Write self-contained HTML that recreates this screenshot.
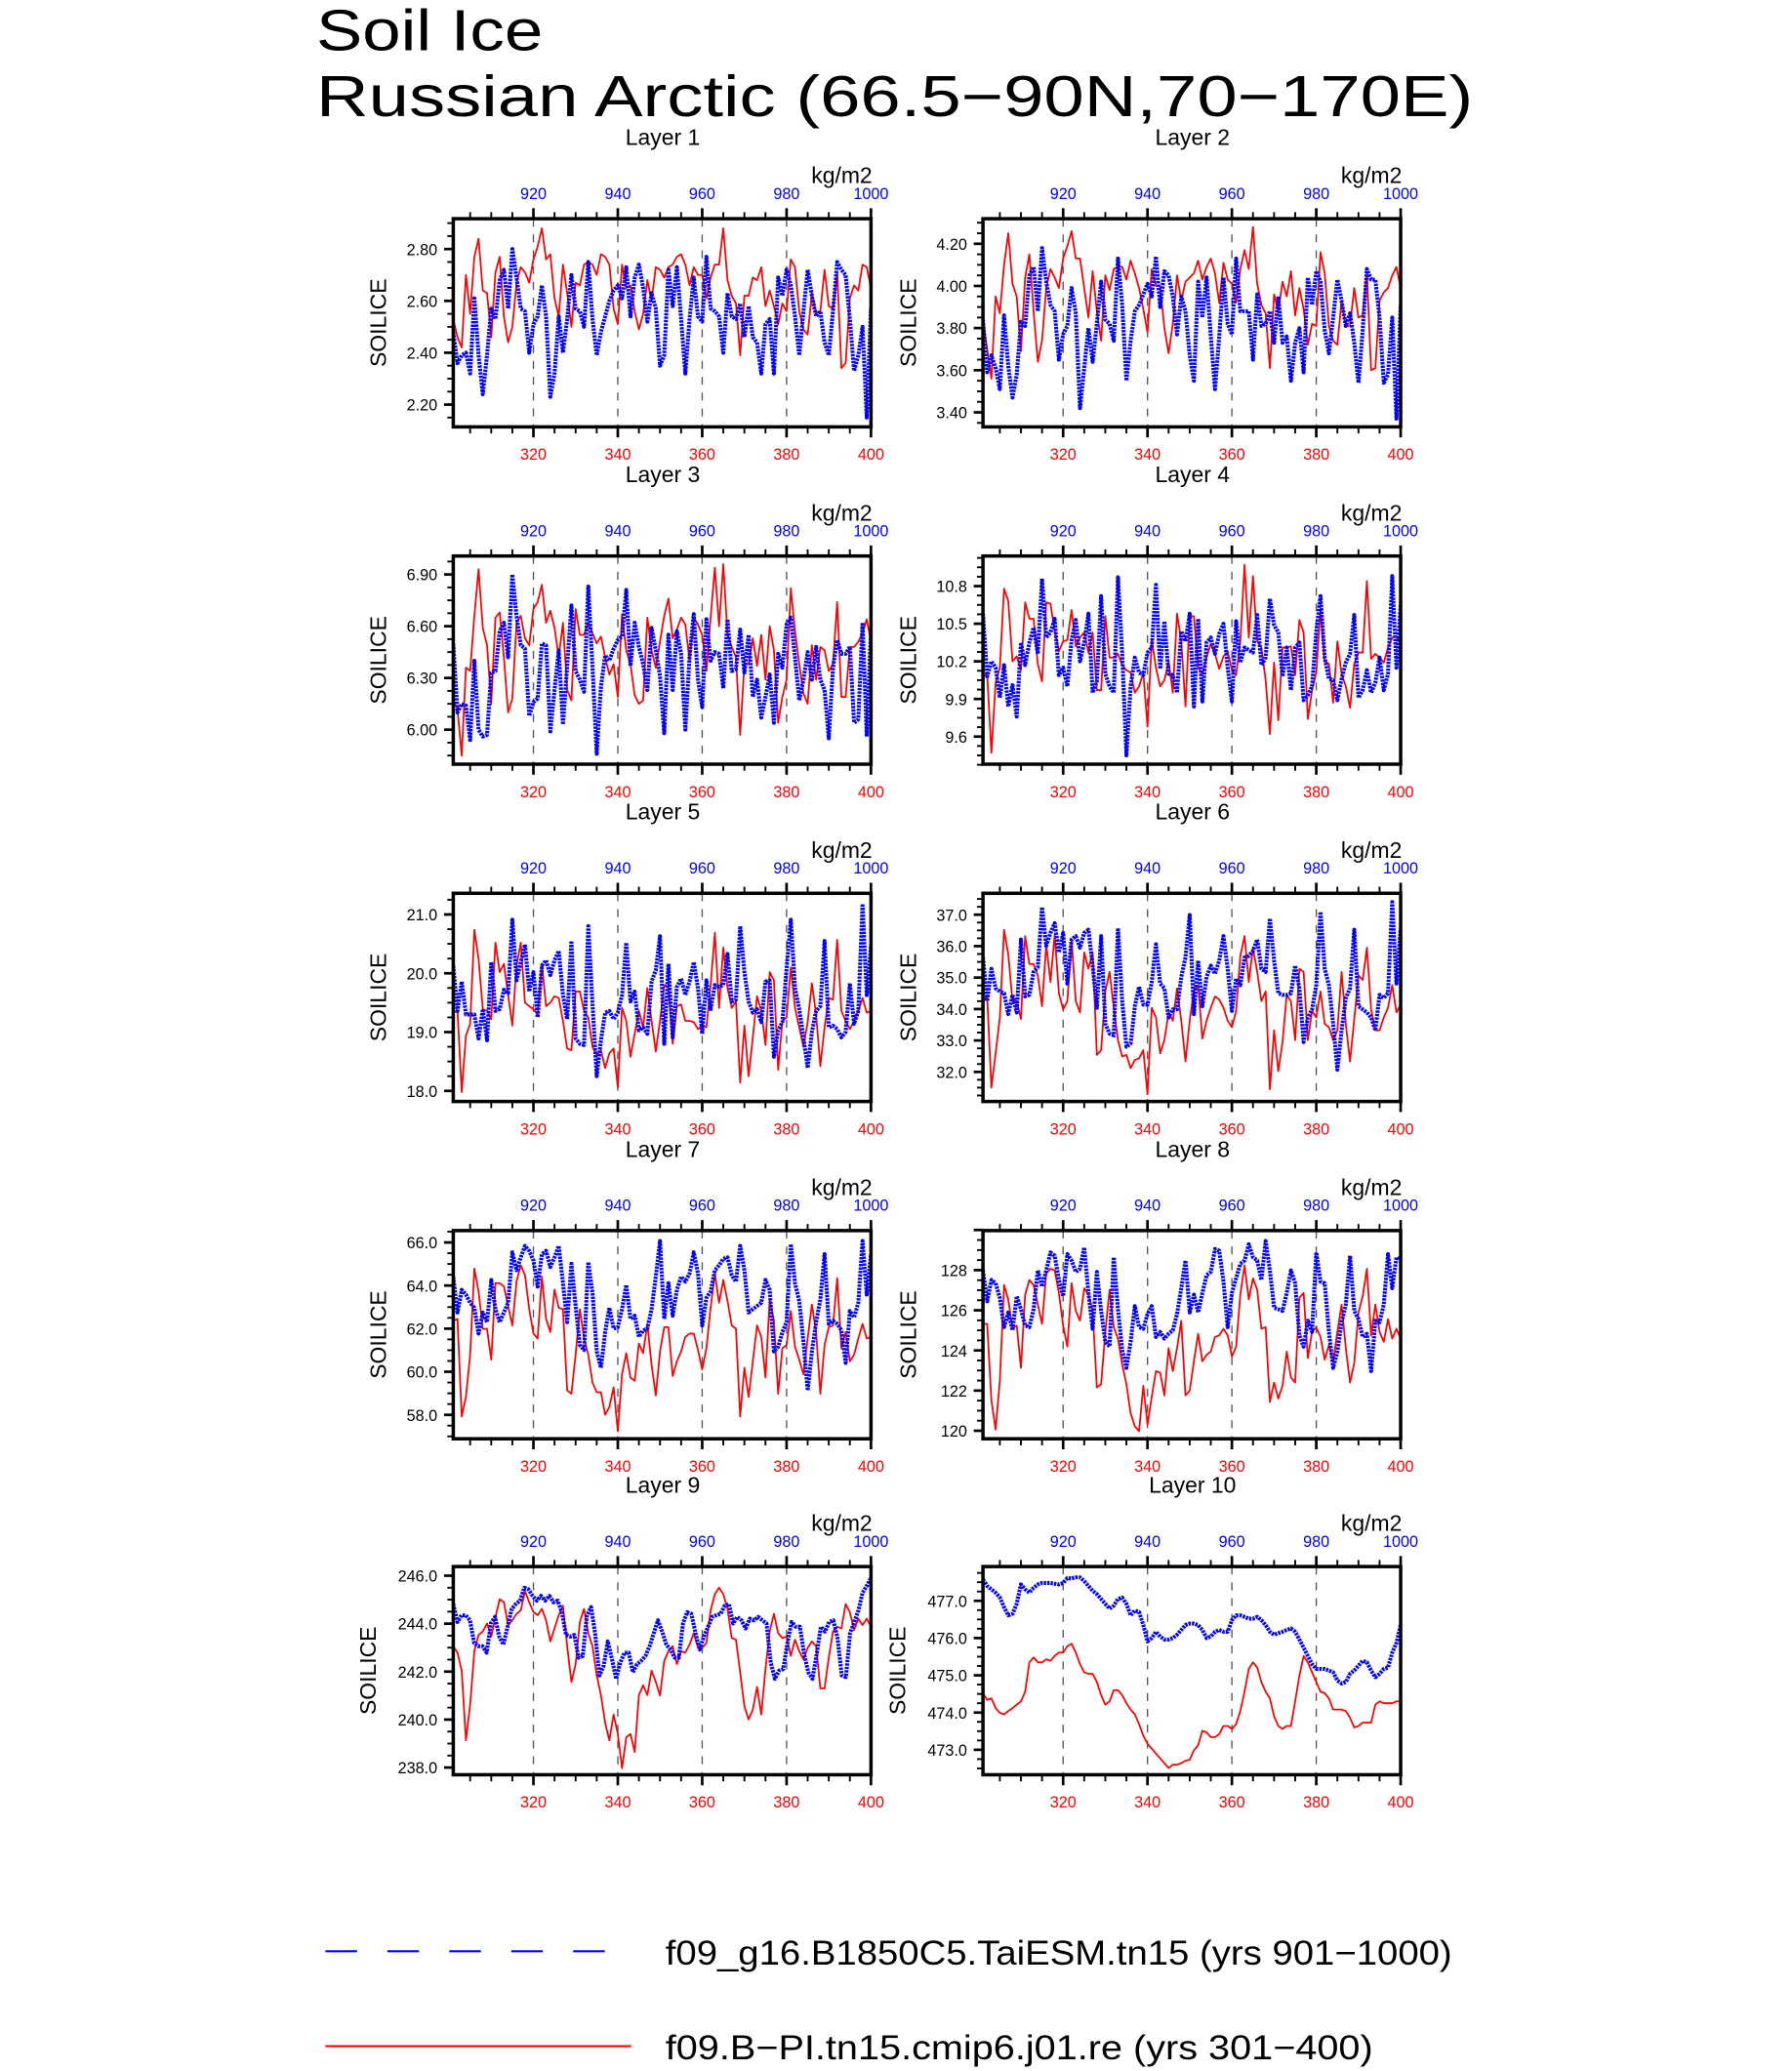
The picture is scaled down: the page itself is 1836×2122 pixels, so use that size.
<!DOCTYPE html>
<html><head><meta charset="utf-8"><title>Soil Ice Russian Arctic</title>
<style>html,body{margin:0;padding:0;background:#fff}svg{display:block}text{font-family:"Liberation Sans",sans-serif}</style>
</head><body>
<svg id="chart" xmlns="http://www.w3.org/2000/svg" width="1836" height="2122" viewBox="0 0 1360 1571.85">
<text x="240" y="38" font-size="44" font-weight="300" textLength="172" lengthAdjust="spacingAndGlyphs">Soil Ice</text>
<text x="240" y="88" font-size="44" font-weight="300" textLength="878" lengthAdjust="spacingAndGlyphs">Russian Arctic (66.5−90N,70−170E)</text>
<g id="panels"></g>
<g>
<line x1="247" y1="1481" x2="462" y2="1481" stroke="#0000ff" stroke-width="1.6" stroke-dasharray="24 23"/>
<text x="505" y="1491" font-size="26" textLength="597" lengthAdjust="spacingAndGlyphs">f09_g16.B1850C5.TaiESM.tn15 (yrs 901−1000)</text>
<line x1="247" y1="1553" x2="479" y2="1553" stroke="#ff0000" stroke-width="1.6"/>
<text x="505" y="1563" font-size="26" textLength="537" lengthAdjust="spacingAndGlyphs">f09.B−PI.tn15.cmip6.j01.re (yrs 301−400)</text>
</g>
</svg>
<script>
const redYears=[301,400];
const blueYears=[901,1000];
const bottomTicks=[320,340,360,380,400];
const topTicks=[920,940,960,980,1000];
const layerNames=["Layer 1","Layer 2","Layer 3","Layer 4","Layer 5","Layer 6","Layer 7","Layer 8","Layer 9","Layer 10"];
const yDomains=[[2.114,2.917],[3.331,4.319],[5.80,7.007],[9.38,11.04],[17.82,21.36],[31.06,37.68],[56.89,66.55],[119.6,129.97],[237.7,246.38],[472.33,477.92]];
const yTickStart=[2.2,3.4,6.0,9.6,18,32,58,120,238,473];
const yTickStep=[0.2,0.2,0.3,0.3,1,1,2,2,2,1];
const yTickCount=[3,4,3,4,3,5,4,4,4,4];
const yTickDec=[2,2,2,1,1,1,1,0,1,1];

const red1=[2.53,2.46,2.42,2.70,2.55,2.77,2.84,2.64,2.63,2.46,2.71,2.77,2.54,2.44,2.50,2.67,2.73,2.71,2.67,2.76,2.81,2.88,2.76,2.78,2.61,2.54,2.74,2.63,2.50,2.67,2.66,2.74,2.75,2.74,2.70,2.78,2.77,2.74,2.57,2.51,2.74,2.65,2.66,2.56,2.49,2.55,2.68,2.60,2.73,2.72,2.69,2.73,2.74,2.77,2.78,2.74,2.66,2.73,2.70,2.70,2.61,2.69,2.74,2.74,2.88,2.68,2.62,2.59,2.39,2.62,2.62,2.69,2.68,2.73,2.58,2.64,2.58,2.51,2.59,2.56,2.76,2.73,2.56,2.49,2.47,2.63,2.55,2.56,2.72,2.58,2.57,2.71,2.34,2.36,2.61,2.66,2.64,2.74,2.73,2.65];
const blue1=[2.48,2.36,2.39,2.40,2.32,2.61,2.39,2.24,2.39,2.57,2.53,2.68,2.72,2.57,2.80,2.69,2.57,2.56,2.40,2.51,2.54,2.66,2.54,2.23,2.32,2.54,2.40,2.53,2.70,2.57,2.56,2.50,2.75,2.53,2.39,2.48,2.54,2.60,2.64,2.66,2.61,2.73,2.54,2.69,2.74,2.65,2.52,2.63,2.57,2.35,2.39,2.72,2.58,2.73,2.53,2.32,2.53,2.69,2.54,2.52,2.77,2.57,2.56,2.54,2.40,2.63,2.54,2.53,2.59,2.46,2.58,2.46,2.44,2.32,2.51,2.53,2.32,2.69,2.62,2.72,2.66,2.54,2.39,2.56,2.72,2.62,2.54,2.56,2.44,2.39,2.56,2.75,2.72,2.70,2.53,2.33,2.39,2.50,2.15,2.57];
const red2=[3.84,3.70,3.56,3.95,3.87,4.10,4.25,4.01,3.95,3.69,4.04,4.15,3.88,3.64,3.74,3.99,4.08,4.04,3.99,4.13,4.19,4.26,4.13,4.13,3.99,3.85,4.07,3.88,3.74,4.05,3.98,4.08,4.09,4.09,4.03,4.12,4.06,3.99,3.89,3.78,4.08,4.00,4.00,3.80,3.68,3.82,4.05,3.93,4.02,4.04,4.06,4.12,4.03,4.09,4.13,4.06,3.92,4.11,4.03,4.01,3.92,4.08,4.17,4.08,4.28,4.01,3.91,3.87,3.61,3.96,3.88,4.02,3.95,4.07,3.86,3.99,3.89,3.72,3.82,3.81,4.16,4.06,3.81,3.74,3.72,3.93,3.81,3.81,3.99,3.85,3.86,4.06,3.60,3.61,3.93,3.97,3.99,4.05,4.09,3.99];
const blue2=[3.84,3.59,3.67,3.61,3.51,3.86,3.62,3.47,3.58,3.83,3.81,4.05,4.09,3.88,4.18,4.02,3.91,3.88,3.65,3.77,3.81,3.99,3.87,3.42,3.61,3.80,3.64,3.82,4.02,3.84,3.82,3.74,4.13,3.91,3.55,3.74,3.88,3.91,3.96,4.01,3.95,4.14,3.90,4.07,4.05,3.95,3.77,3.95,3.88,3.67,3.55,4.02,3.85,4.04,3.76,3.51,3.76,4.04,3.82,3.77,4.13,3.88,3.88,3.88,3.65,3.96,3.81,3.82,3.88,3.73,3.95,3.73,3.76,3.55,3.73,3.80,3.59,4.04,3.91,4.07,4.02,3.79,3.68,3.85,4.03,3.93,3.81,3.87,3.73,3.54,3.79,4.08,4.03,4.03,3.85,3.54,3.58,3.85,3.37,3.91];
const red3=[6.17,6.12,5.85,6.36,6.34,6.66,6.93,6.59,6.49,6.15,6.65,6.68,6.42,6.10,6.18,6.62,6.66,6.53,6.49,6.70,6.74,6.84,6.62,6.69,6.59,6.42,6.62,6.23,6.17,6.70,6.55,6.55,6.62,6.56,6.50,6.54,6.42,6.32,6.38,6.19,6.67,6.46,6.38,6.20,6.15,6.17,6.65,6.46,6.36,6.51,6.66,6.76,6.53,6.58,6.65,6.61,6.40,6.65,6.61,6.55,6.34,6.65,6.94,6.60,6.96,6.55,6.48,6.42,5.97,6.38,6.38,6.53,6.37,6.55,6.29,6.60,6.46,6.04,6.19,6.29,6.82,6.57,6.38,6.21,6.15,6.49,6.29,6.48,6.46,6.34,6.38,6.74,6.19,6.19,6.48,6.48,6.51,6.56,6.64,6.51];
const blue3=[6.50,6.10,6.15,6.14,5.94,6.40,6.00,5.96,5.97,6.33,6.34,6.57,6.62,6.42,6.90,6.66,6.49,6.47,6.08,6.16,6.18,6.50,6.49,5.99,6.23,6.46,6.03,6.37,6.72,6.34,6.29,6.22,6.83,6.36,5.86,6.25,6.43,6.40,6.47,6.52,6.54,6.81,6.37,6.62,6.48,6.38,6.23,6.59,6.46,6.31,5.98,6.55,6.23,6.57,6.44,6.00,6.42,6.67,6.29,6.13,6.64,6.40,6.45,6.44,6.24,6.64,6.34,6.35,6.58,6.33,6.55,6.19,6.29,6.07,6.19,6.32,6.04,6.44,6.36,6.61,6.65,6.42,6.17,6.29,6.45,6.29,6.48,6.29,6.23,5.95,6.36,6.52,6.44,6.44,6.48,6.04,6.06,6.62,5.96,6.58];
const red4=[10.08,10.10,9.47,10.03,10.15,10.78,10.68,10.20,10.24,10.13,10.67,10.54,10.54,10.18,10.04,10.67,10.66,10.44,10.28,10.36,10.37,10.61,10.32,10.39,10.43,10.27,10.43,9.97,9.97,10.56,10.23,10.23,10.26,10.17,10.13,10.11,9.95,10.00,10.11,9.68,10.37,10.15,10.00,10.05,10.20,9.95,10.58,10.36,9.84,10.56,10.56,10.15,10.10,10.23,10.34,10.26,10.14,10.24,10.28,10.13,10.09,10.36,10.97,10.39,10.88,10.36,10.31,10.05,9.62,10.19,9.73,10.31,10.31,10.32,10.09,10.53,10.43,9.74,9.97,10.11,10.62,10.20,10.18,9.87,10.36,10.10,10.00,9.83,10.18,10.27,10.27,10.84,10.22,10.26,10.23,10.19,10.31,10.39,10.40,10.34];
const blue4=[10.58,10.08,10.20,10.15,9.91,10.17,9.84,10.01,9.76,10.35,10.17,10.35,10.47,10.26,10.86,10.39,10.43,10.54,10.09,10.15,10.00,10.37,10.53,10.20,10.35,10.58,9.95,10.04,10.72,10.10,10.00,9.95,10.87,10.26,9.45,10.00,10.23,10.11,10.09,10.27,10.31,10.81,10.14,10.52,10.10,10.09,9.95,10.44,10.36,10.58,9.84,10.54,9.88,10.35,10.39,10.26,10.42,10.50,10.15,9.88,10.52,10.19,10.31,10.29,10.27,10.57,10.17,10.23,10.70,10.49,10.43,10.08,10.31,9.97,10.31,10.35,9.89,9.93,10.00,10.44,10.72,10.23,10.06,10.05,9.89,10.06,10.19,10.26,10.57,9.91,9.97,10.13,9.95,10.03,10.23,9.97,10.10,10.88,10.15,10.65];
const red5=[19.33,19.36,17.98,18.94,19.14,20.74,20.24,19.39,19.36,19.22,20.52,20.02,20.16,19.63,19.11,20.13,20.52,19.50,19.44,19.39,19.30,20.16,19.44,19.50,19.61,19.58,19.19,18.72,18.69,19.69,19.69,19.36,19.25,18.75,18.61,18.69,18.39,18.64,18.72,18.06,19.41,19.19,18.58,18.97,19.36,19.08,19.75,19.19,18.67,19.19,19.80,19.77,18.80,19.44,19.47,19.19,19.19,19.17,19.05,19.11,19.08,19.80,20.69,19.41,20.44,19.75,19.41,19.52,18.14,19.11,18.25,18.91,19.61,19.36,18.78,20.02,19.88,18.36,19.19,19.25,20.10,19.41,19.08,18.75,19.17,19.83,19.30,18.42,19.08,19.58,19.55,20.57,19.36,19.19,19.05,19.19,19.36,19.58,19.33,19.36];
const blue5=[20.13,19.36,19.86,19.30,19.30,19.30,18.89,19.39,18.86,20.19,19.36,19.39,19.72,19.66,20.91,19.88,20.19,20.49,19.69,20.02,19.25,20.13,20.22,19.97,20.22,20.38,19.63,19.22,20.55,18.89,18.80,18.78,20.80,19.47,18.25,18.86,19.33,19.36,19.22,19.33,19.63,20.52,19.52,19.69,19.03,19.08,18.97,19.86,20.05,20.63,18.80,20.16,18.91,19.77,19.91,19.63,19.86,20.19,19.75,18.97,19.88,19.39,19.80,19.77,19.80,20.33,19.52,19.55,20.80,20.02,19.52,19.33,19.39,19.17,19.86,19.88,18.58,19.03,19.17,20.08,20.91,19.75,19.39,18.91,18.39,19.00,19.36,19.44,20.55,19.08,19.11,19.05,18.91,19.00,19.83,19.14,19.36,21.18,19.63,20.47];
const red6=[34.25,34.40,31.50,32.59,33.73,36.52,35.74,34.25,34.25,33.68,36.32,35.43,35.43,35.07,34.09,36.06,34.86,36.37,34.50,33.99,34.25,36.21,34.25,33.89,35.80,35.28,35.80,32.54,32.69,34.56,35.18,34.04,33.01,32.49,32.54,32.12,32.38,32.43,32.69,31.29,34.04,33.73,32.59,33.01,33.89,33.63,34.66,33.63,32.33,33.63,34.61,34.76,33.06,33.63,34.04,34.40,34.30,34.04,33.63,33.42,33.94,35.69,36.32,34.86,35.95,35.18,34.25,34.56,31.45,33.32,32.02,32.95,34.45,34.25,33.01,35.28,35.18,33.01,33.94,33.73,34.56,33.53,33.42,33.01,33.32,35.18,33.53,32.33,33.68,35.07,34.92,35.95,33.99,33.32,33.32,33.73,34.04,34.76,33.89,34.14];
const blue6=[35.64,34.25,35.28,34.66,34.56,34.50,33.84,34.45,33.89,36.21,34.40,34.45,35.18,35.33,37.24,36.01,36.42,36.73,35.80,36.42,34.81,36.21,36.32,35.95,36.42,36.52,35.38,34.04,36.32,33.53,33.22,33.16,36.57,34.25,32.80,32.90,34.09,34.71,34.14,34.14,34.86,36.06,34.81,34.66,33.73,33.99,33.99,35.02,35.64,36.99,33.84,35.54,34.09,35.02,35.38,35.12,35.54,36.32,35.28,33.94,34.97,34.76,35.64,35.69,35.85,36.21,35.28,35.18,36.88,35.54,34.50,34.45,34.45,34.50,35.38,34.66,32.95,33.73,33.99,34.76,37.09,35.28,34.76,33.53,32.07,33.32,34.35,34.66,36.52,34.09,33.99,33.89,33.73,33.32,34.45,34.35,34.50,37.40,34.81,36.57];
const red7=[62.37,62.45,57.92,58.83,60.79,64.79,63.73,61.99,61.99,60.56,64.11,64.11,63.96,63.05,62.15,64.19,64.94,64.49,62.90,61.77,61.54,64.41,62.45,61.84,63.81,62.97,62.90,59.13,58.98,60.79,62.90,61.54,60.79,59.50,59.05,59.05,58.00,58.37,59.28,57.24,59.88,60.86,59.73,59.58,61.31,60.86,62.22,60.33,58.90,60.94,62.07,62.07,59.80,60.48,60.94,61.62,61.77,61.77,61.01,60.11,61.09,62.97,64.56,63.20,64.26,63.28,62.15,61.99,57.92,60.18,58.83,60.48,62.15,61.62,59.73,63.35,62.37,58.98,61.09,61.24,62.82,61.16,60.56,59.88,61.54,63.12,61.84,58.98,61.24,62.07,62.15,64.34,61.09,61.84,60.48,60.79,61.54,62.22,61.54,61.62];
const blue7=[64.41,62.75,63.80,63.58,63.20,62.97,61.77,62.75,62.30,64.26,62.90,62.30,62.75,63.20,65.54,64.71,65.31,65.84,65.61,65.16,63.95,65.46,65.61,64.86,65.31,65.84,64.11,62.30,65.01,63.05,61.24,61.01,65.09,63.65,60.94,60.18,61.84,62.97,62.00,62.07,62.90,64.03,62.45,62.60,61.62,61.92,62.00,62.90,64.41,66.07,62.45,64.11,62.60,63.80,64.41,64.18,64.56,65.54,64.56,62.15,63.43,63.73,64.71,64.94,65.24,65.31,64.48,64.18,65.84,64.71,62.75,62.90,63.05,63.20,64.26,63.80,60.94,61.16,61.84,62.30,65.92,64.11,63.28,61.39,59.13,60.94,62.30,63.35,65.46,62.22,62.37,62.22,61.92,60.41,62.82,62.52,63.20,66.07,63.58,65.46];
const red8=[125.32,125.32,121.51,120.06,122.49,127.26,126.54,125.08,125.24,123.13,126.78,127.51,127.26,126.29,125.32,127.83,128.07,127.99,126.86,125.24,124.19,127.35,125.97,125.48,127.10,126.78,125.97,122.16,122.32,124.92,127.02,125.16,124.59,123.30,122.32,120.87,120.22,119.98,122.24,120.30,121.68,122.97,122.89,121.76,124.11,122.97,124.11,125.48,121.76,122.00,123.46,124.83,123.46,123.78,123.94,124.67,124.75,125.08,124.75,123.70,124.19,126.78,128.24,126.54,127.59,127.02,125.08,125.16,121.43,122.40,121.60,122.24,123.94,122.65,122.40,126.62,126.86,123.62,124.92,125.16,124.67,123.54,124.27,123.46,124.92,126.29,124.11,122.40,123.38,125.89,126.70,128.07,124.75,126.29,124.92,124.43,125.56,124.59,125.08,124.59];
const blue8=[127.99,126.45,127.51,127.35,126.62,125.16,125.89,125.00,126.70,126.05,125.24,125.16,126.05,127.99,127.18,127.99,128.88,128.72,127.51,126.70,128.80,128.48,127.91,128.07,129.13,126.86,125.08,127.91,125.97,124.43,124.19,128.64,126.05,124.02,123.13,124.43,126.21,125.16,125.08,125.81,126.21,124.67,124.92,124.59,124.83,125.00,125.81,127.10,128.48,125.89,126.78,125.89,126.86,127.75,127.91,129.05,128.97,127.43,125.16,126.86,127.59,128.32,128.48,129.29,128.64,128.48,127.51,129.45,127.99,126.13,126.05,125.97,126.86,127.99,127.35,124.75,124.19,125.48,124.92,128.88,127.43,127.35,124.92,123.13,123.94,125.40,126.29,128.72,125.97,125.56,124.67,124.83,122.97,125.48,125.40,126.29,128.80,127.10,128.64,128.48];
const red9=[243.06,242.79,242.04,239.13,240.62,242.85,243.53,243.67,244.01,243.46,244.28,245.02,244.89,243.94,244.14,244.41,244.55,245.36,244.89,244.48,244.35,244.62,244.14,243.26,243.80,244.35,244.75,243.06,241.57,242.31,244.07,244.62,243.60,243.06,241.84,241.02,239.87,239.13,240.21,239.40,237.97,239.26,239.40,238.65,241.02,241.43,241.02,242.04,241.57,241.00,242.45,242.85,243.06,242.31,242.85,242.79,243.13,243.60,242.99,242.99,243.19,244.55,245.23,245.50,245.23,244.62,243.40,243.33,241.97,240.55,240.01,240.41,241.36,240.21,242.11,243.67,244.41,243.60,243.40,243.46,242.65,243.33,242.85,242.51,242.99,243.26,243.06,241.30,241.30,242.58,243.67,243.87,243.80,244.82,244.48,243.73,244.21,243.94,244.21,243.87];
const blue9=[244.82,244.07,244.35,244.35,244.14,243.19,243.06,243.06,242.79,244.01,244.28,243.46,243.13,243.87,244.62,244.82,244.96,245.50,245.43,245.16,244.96,245.16,244.96,245.16,244.89,244.96,244.48,243.53,243.46,243.53,242.58,242.65,244.35,244.69,243.53,241.84,242.24,243.26,242.51,241.70,242.38,242.79,242.79,241.97,242.31,242.45,242.65,243.06,243.60,244.14,243.67,243.13,242.92,242.58,242.58,244.01,244.48,244.41,243.60,242.92,243.46,243.87,244.28,244.35,244.41,244.75,244.82,244.01,244.28,244.14,243.80,244.21,244.14,244.28,244.14,244.01,242.38,241.70,242.04,242.11,243.19,244.07,243.87,243.87,242.72,241.97,241.70,242.72,243.87,243.67,244.07,244.14,243.40,241.84,241.77,243.60,244.07,244.55,245.30,245.57,245.91];
const red10=[474.52,474.34,474.38,474.12,473.99,473.95,474.04,474.12,474.21,474.30,474.56,475.35,475.48,475.35,475.35,475.43,475.39,475.52,475.61,475.61,475.78,475.85,475.61,475.30,475.08,475.04,475.04,474.82,474.47,474.21,474.30,474.60,474.60,474.47,474.25,474.08,473.95,473.69,473.38,473.16,473.03,472.90,472.77,472.64,472.51,472.60,472.60,472.64,472.71,472.73,472.99,473.12,473.51,473.47,473.34,473.34,473.42,473.64,473.64,473.56,473.69,474.04,474.56,475.17,475.35,475.21,474.82,474.56,474.38,473.90,473.64,473.56,473.64,473.64,474.30,474.99,475.52,475.35,475.08,474.82,474.56,474.52,474.38,474.08,474.08,474.08,474.04,473.86,473.60,473.64,473.73,473.73,473.73,474.21,474.30,474.25,474.25,474.25,474.30,474.30];
const blue10=[477.57,477.40,477.31,477.22,477.09,476.83,476.61,476.65,476.92,477.44,477.31,477.22,477.35,477.44,477.48,477.48,477.48,477.46,477.44,477.48,477.61,477.60,477.63,477.63,477.53,477.40,477.27,477.18,477.05,476.92,476.79,476.87,477.05,477.09,476.92,476.61,476.74,476.70,476.35,475.91,476.00,476.17,476.04,475.96,475.96,476.00,476.09,476.22,476.35,476.39,476.39,476.35,476.22,476.00,476.04,476.17,476.22,476.17,476.17,476.48,476.61,476.61,476.57,476.52,476.52,476.57,476.48,476.35,476.17,476.09,476.13,476.17,476.22,476.26,476.17,475.96,475.74,475.52,475.30,475.17,475.17,475.17,475.13,475.08,474.86,474.78,474.82,475.04,475.13,475.26,475.39,475.35,475.13,474.95,475.04,475.17,475.21,475.61,475.87,476.35];

const redSeries=[red1,red2,red3,red4,red5,red6,red7,red8,red9,red10];
const blueSeries=[blue1,blue2,blue3,blue4,blue5,blue6,blue7,blue8,blue9,blue10];

const NS="http://www.w3.org/2000/svg";
const root=document.getElementById('panels');
const W=317,H=158,colX=[344,746],rowY=[166,422,678,934,1189];
function mk(tag,attrs,parent){const e=document.createElementNS(NS,tag);for(const k in attrs)e.setAttribute(k,attrs[k]);parent.appendChild(e);return e;}
function txt(s,attrs,parent){const e=mk('text',attrs,parent);e.textContent=s;return e;}

for(let p=0;p<10;p++){
  const L=colX[p%2],T=rowY[Math.floor(p/2)],R=L+W,B=T+H;
  const g=mk('g',{},root);
  
  
  const [y0,y1]=yDomains[p];
  const ys=v=>B-(v-y0)/(y1-y0)*H;
  const xr=v=>L+(v-redYears[0])/(redYears[1]-redYears[0])*W;
  const xb=v=>L+(v-blueYears[0])/(blueYears[1]-blueYears[0])*W;
  const t=txt(layerNames[p],{x:L+159,y:T-56,'font-size':17,'text-anchor':'middle'},g);
  
  
  const u=txt('kg/m2',{x:R+1,y:T-27,'font-size':17,'text-anchor':'end'},g);
  
  
  for(const v of [320,340,360,380]){
    const gl=mk('line',{x1:xr(v),x2:xr(v),y1:T,y2:B,stroke:'#555','stroke-width':1,'stroke-dasharray':'6 6'},g);
    
    
  }
  for(let yr=305;yr<=400;yr+=5){
    const major=yr%20===0;const x=xr(yr);const len=major?8:5;
    mk('line',{x1:x,x2:x,y1:B,y2:B+len,stroke:'#000','stroke-width':major?2:1.4},g);
    const xt=xb(yr+600);
    mk('line',{x1:xt,x2:xt,y1:T,y2:T-len,stroke:'#000','stroke-width':major?2:1.4},g);
  }
  for(const v of bottomTicks){
    const l=txt(String(v),{x:xr(v),y:B+25,'font-size':12,'text-anchor':'middle',fill:'#ff0000'},g);
    
    
  }
  for(const v of topTicks){
    const l=txt(String(v),{x:xb(v),y:T-15,'font-size':12,'text-anchor':'middle',fill:'#0000ff'},g);
    
    
  }
  const st=yTickStep[p];
  for(let k=-4;k<=yTickCount[p]*4+4;k++){
    const v=yTickStart[p]+k*st/4;const y=ys(v);
    if(y<T-0.5||y>B+0.5)continue;
    const major=k%4===0;
    mk('line',{x1:L,x2:L-(major?7:4.5),y1:y,y2:y,stroke:'#000','stroke-width':major?2:1.4},g);
    if(major&&k>=0&&k<=yTickCount[p]*4){
      const l=txt(v.toFixed(yTickDec[p]),{x:L-12,y:y+4.5,'font-size':12,'text-anchor':'end'},g);
      
      
    }
  }
  const yl=txt('SOILICE',{x:0,y:0,'font-size':17,'text-anchor':'middle',transform:`translate(${L-(p>=8?59:51)},${T+79}) rotate(-90)`},g);
  
  
  const clip=mk('clipPath',{id:'clip'+p},g);
  mk('rect',{x:L,y:T,width:W,height:H},clip);
  const rs=redSeries[p],bs=blueSeries[p];
  const rp=rs.map((v,i)=>(i?'L':'M')+xr(redYears[0]+i*(redYears[1]-redYears[0])/(rs.length-1)).toFixed(2)+','+ys(v).toFixed(2)).join('');
  const bp=bs.map((v,i)=>(i?'L':'M')+xb(blueYears[0]+i*(blueYears[1]-blueYears[0])/(bs.length-1)).toFixed(2)+','+ys(v).toFixed(2)).join('');
  const rl=mk('path',{d:rp,fill:'none',stroke:'#ff0000','stroke-width':1.3,'stroke-linejoin':'round','clip-path':`url(#clip${p})`},g);
  
  
  const bl=mk('path',{d:bp,fill:'none',stroke:'#0000ff','stroke-width':3,'stroke-dasharray':'1.8 0.8','stroke-linejoin':'round','clip-path':`url(#clip${p})`},g);
  
  
  const fr=mk('rect',{x:L,y:T,width:W,height:H,fill:'none',stroke:'#000','stroke-width':2.6},g);
  
  
}
</script>
</body></html>
